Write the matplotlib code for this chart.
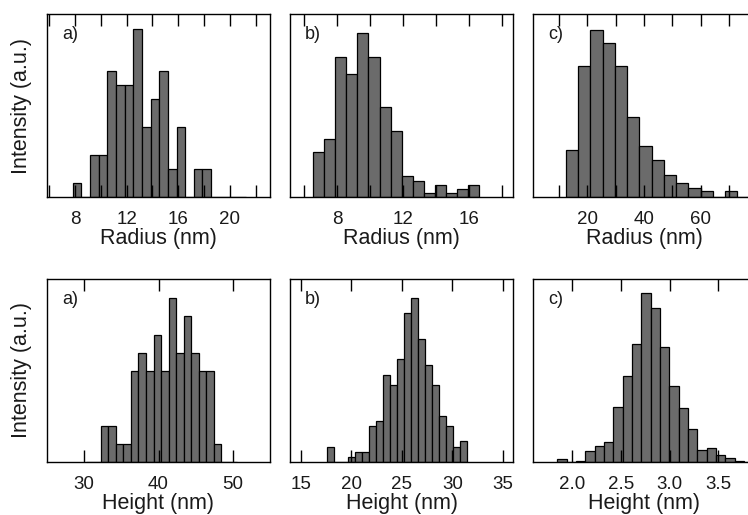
from matplotlib import pyplot as plt
import numpy as np

# top row: radius histograms
radius_a_start, radius_a_width = 7.82, 0.67
radius_a = [1, 0, 3, 3, 9, 8, 8, 12, 5, 7, 9, 2, 5, 0, 2, 2, 0, 0, 0, 0]
radius_b_start, radius_b_width = 6.54, 0.672
radius_b = [11, 14, 34, 30, 40, 34, 22, 16, 5, 4, 1, 3, 1, 2, 3]
radius_c_start, radius_c_width = 12.4, 4.32
radius_c = [140, 391, 498, 460, 390, 240, 151, 110, 65, 41, 28, 18, 0, 17, 0]

# bottom row: height histograms
height_a_start, height_a_width = 30.2, 1.015
height_a = [0, 0, 2, 2, 1, 1, 5, 6, 5, 7, 5, 9, 6, 8, 6, 5, 5, 1, 0, 0]
height_b_start, height_b_width = 17.57, 0.693
height_b = [3, 0, 0, 1, 2, 2, 7, 8, 17, 15, 20, 29, 32, 24, 19, 15, 9, 7, 3, 4]
height_c_start, height_c_width = 1.85, 0.0956
height_c = [10, 0, 3, 33, 48, 60, 163, 257, 353, 503, 459, 342, 227, 162, 97,
            37, 41, 20, 12, 3, 0]

panels = [
    # letter, start, width, counts, xlim, ymax, ticks, tick labels, xlabel
    ('a)', radius_a_start, radius_a_width, radius_a, (5.83, 23.1), 13.1,
     [6, 8, 10, 12, 14, 16, 18, 20, 22], ['', '8', '', '12', '', '16', '', '20', ''], 'Radius (nm)'),
    ('b)', radius_b_start, radius_b_width, radius_b, (5.12, 18.7), 44.5,
     [6, 8, 10, 12, 14, 16, 18], ['', '8', '', '12', '', '16', ''], 'Radius (nm)'),
    ('c)', radius_c_start, radius_c_width, radius_c, (0.8, 79.5), 546,
     [10, 20, 30, 40, 50, 60, 70], ['', '20', '', '40', '', '60', ''], 'Radius (nm)'),
    ('a)', height_a_start, height_a_width, height_a, (25, 55), 10.05,
     [30, 40, 50], ['30', '40', '50'], 'Height (nm)'),
    ('b)', height_b_start, height_b_width, height_b, (13.94, 36.0), 35.7,
     [15, 20, 25, 30, 35], ['15', '20', '25', '30', '35'], 'Height (nm)'),
    ('c)', height_c_start, height_c_width, height_c, (1.60, 3.885), 546,
     [2.0, 2.5, 3.0, 3.5], ['2.0', '2.5', '3.0', '3.5'], 'Height (nm)'),
]

plt.rcParams['font.family'] = ['Liberation Sans', 'DejaVu Sans']

W, H = 748, 515
fig = plt.figure(figsize=(W / 100, H / 100), dpi=100)

col_left = [47, 290, 533]
row_top = [14, 279]
ax_w, ax_h = 223, 183

for i, (letter, start, width, counts, xlim, ymax, ticks, ticklabels, xlabel) in enumerate(panels):
    row, col = divmod(i, 3)
    left = col_left[col] / W
    bottom = 1 - (row_top[row] + ax_h) / H
    ax = fig.add_axes([left, bottom, ax_w / W, ax_h / H])

    edges = start + width * np.arange(len(counts))
    ax.bar(edges, counts, width=width, align='edge', color='#6b6b6b',
           edgecolor='black', linewidth=0.9)

    ax.set_xlim(*xlim)
    ax.set_ylim(0, ymax)
    ax.set_yticks([])
    ax.set_xticks(ticks)
    ax.set_xticklabels(ticklabels)
    ax.tick_params(axis='x', direction='in', length=8.5, width=1.0, top=True,
                   pad=10, labelsize=13.5, labelcolor='#1a1a1a')
    for s in ax.spines.values():
        s.set_linewidth(1.0)
    ax.set_xlabel(xlabel, fontsize=15.5, labelpad=0, color='#1a1a1a')
    if col == 0:
        ax.set_ylabel('Intensity (a.u.)', fontsize=15.5, labelpad=11, color='#1a1a1a')
    ax.text(0.067, 0.935, letter, transform=ax.transAxes, fontsize=13,
            va='top', ha='left', color='#1a1a1a')

fig.savefig('out.png', dpi=100)
